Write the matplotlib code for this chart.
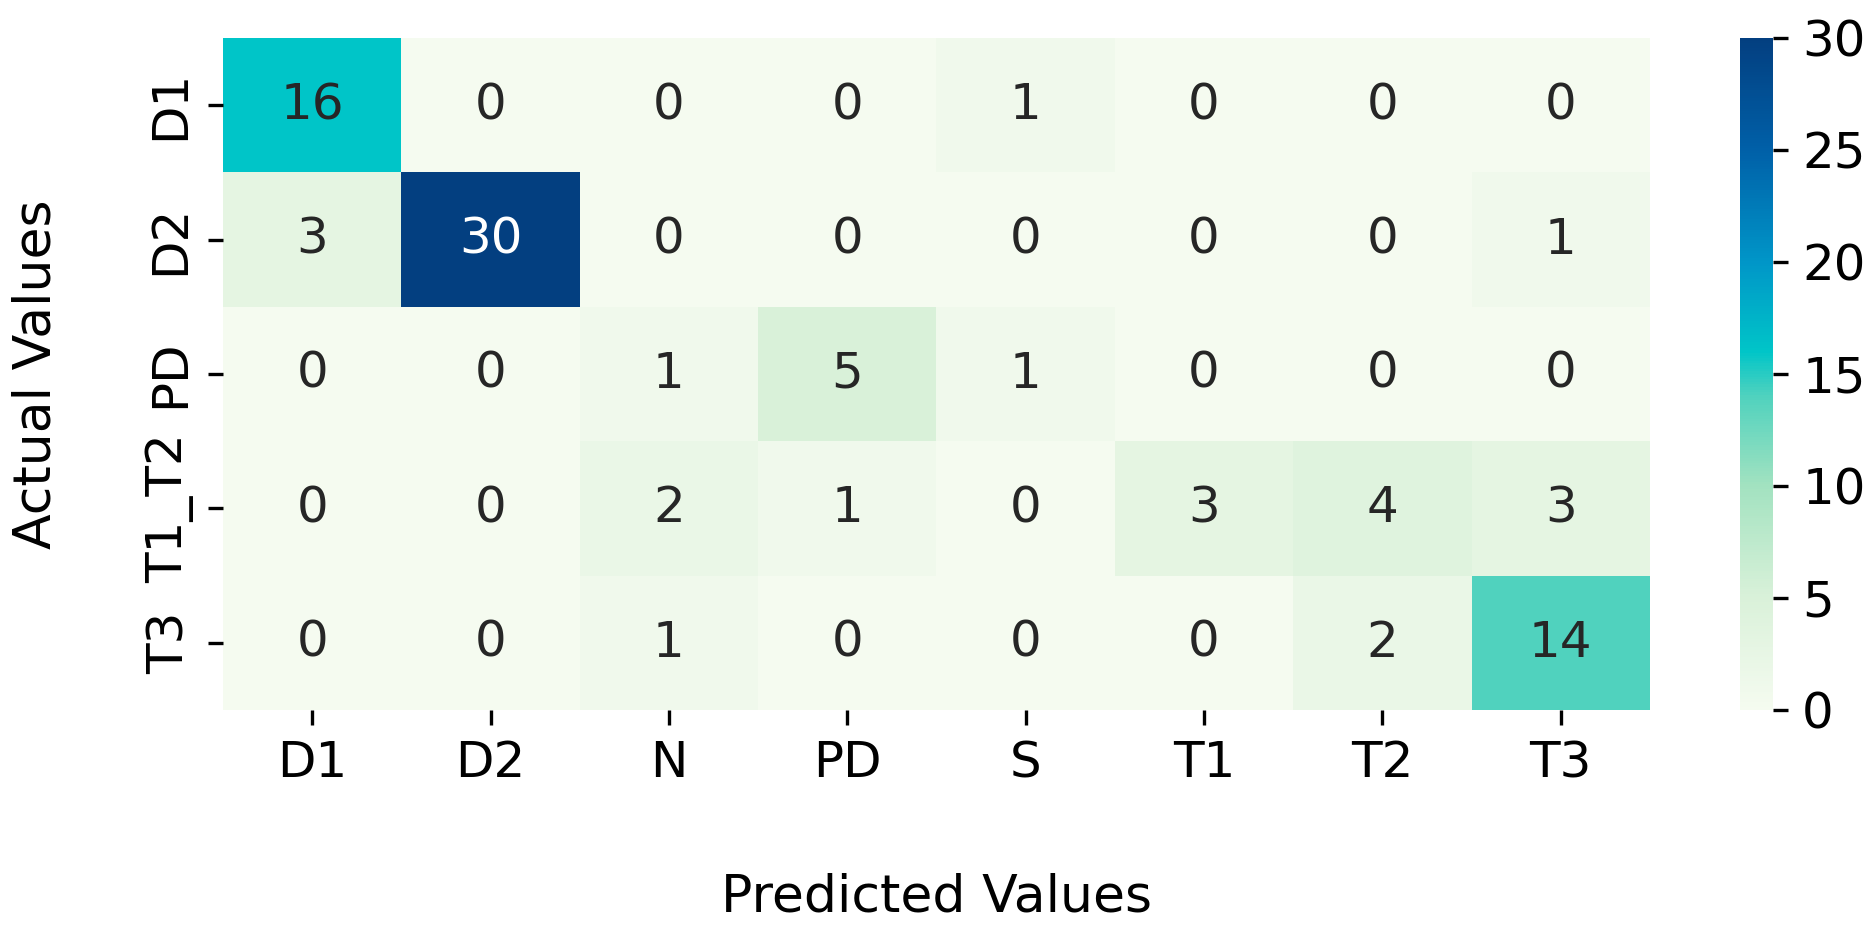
import matplotlib
matplotlib.use("Agg")
import matplotlib.pyplot as plt
from matplotlib.colors import LinearSegmentedColormap
import numpy as np
import seaborn as sns

# confusion matrix: rows = actual, cols = predicted
actual_labels = ["D1", "D2", "PD", "T1_T2", "T3"]
predicted_labels = ["D1", "D2", "N", "PD", "S", "T1", "T2", "T3"]
row_d1 = [16, 0, 0, 0, 1, 0, 0, 0]
row_d2 = [3, 30, 0, 0, 0, 0, 0, 1]
row_pd = [0, 0, 1, 5, 1, 0, 0, 0]
row_t1t2 = [0, 0, 2, 1, 0, 3, 4, 3]
row_t3 = [0, 0, 1, 0, 0, 0, 2, 14]

cm = np.array([row_d1, row_d2, row_pd, row_t1t2, row_t3])

# colour ramp
cmap = LinearSegmentedColormap.from_list("ref_gnbu", [
    (0.0, "#f5fbf0"),
    (5 / 30, "#d9f1d9"),
    (10 / 30, "#a2e2c0"),
    (14 / 30, "#50d2be"),
    (16 / 30, "#00c5c8"),
    (20 / 30, "#0096c8"),
    (25 / 30, "#0060a8"),
    (1.0, "#033f80"),
])

fs = 12
plt.rcParams["font.family"] = ["DejaVu Sans"]

fig = plt.figure(figsize=(6.25, 3.1267), dpi=300)
ax = fig.add_axes([0.1189, 0.2431, 0.88 - 0.1189, 0.9595 - 0.2431])
cax = fig.add_axes([0.928, 0.2431, 0.0176, 0.9595 - 0.2431])

sns.heatmap(cm, annot=True, fmt="d", cmap=cmap, vmin=0, vmax=30,
            xticklabels=predicted_labels, yticklabels=actual_labels,
            annot_kws={"size": fs}, ax=ax, cbar_ax=cax)

ax.tick_params(axis="both", labelsize=fs)
cax.tick_params(labelsize=fs)
cax.set_yticks([0, 5, 10, 15, 20, 25, 30])

ax.set_xlabel("Predicted Values", fontsize=12.5, labelpad=20.5)
ax.set_ylabel("Actual Values", fontsize=12.5, labelpad=20)

fig.savefig("out.png", dpi=300)
